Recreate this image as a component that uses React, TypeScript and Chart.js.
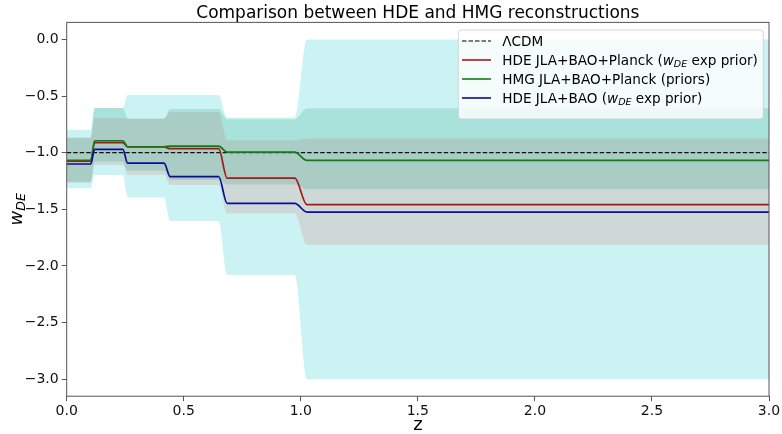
import React, { useEffect, useRef } from 'react';
import { Chart, registerables } from 'chart.js';

Chart.register(...registerables);

// ---- data ----
// bin edges in redshift (a = 0.9, 0.8, 0.7, 0.6, 0.5)
const Z_EDGES = [0, 0.111, 0.25, 0.429, 0.667, 1.0, 3.0];
const SMOOTH_A = 0.0065; // half-width of the smooth step in scale factor

const LCDM_Z = [0, 3];
const LCDM_W = [-1, -1];

const HDE_PLANCK = [-1.074, -0.912, -0.95, -0.965, -1.225, -1.459];
const HMG = [-1.067, -0.895, -0.948, -0.942, -0.996, -1.068];
const HDE_BAO = [-1.1, -0.971, -1.092, -1.212, -1.448, -1.525];

const HDE_BAO_UP = [-0.798, -0.606, -0.492, -0.492, -0.69, 0.0];
const HDE_BAO_LO = [-1.315, -1.198, -1.395, -1.604, -2.08, -3.0];
const HDE_PLANCK_UP = [-0.868, -0.695, -0.7, -0.642, -0.89, -0.874];
const HDE_PLANCK_LO = [-1.265, -1.11, -1.198, -1.286, -1.536, -1.812];
const HMG_UP = [-0.868, -0.606, -0.7, -0.615, -0.706, -0.609];
const HMG_LO = [-1.257, -1.08, -1.16, -1.242, -1.28, -1.324];

const X_TICKS = [0, 0.5, 1, 1.5, 2, 2.5, 3];
const Y_TICKS = [0, -0.5, -1, -1.5, -2, -2.5, -3];

const TITLE = 'Comparison between HDE and HMG reconstructions';
const X_LABEL = 'z';

// ---- styles ----
const FONT = '"DejaVu Sans", sans-serif';
const RED = '#a81616';
const GREEN = '#127c12';
const BLUE = '#0c0c98';
const AXIS = '#555555';
const CYAN_FILL = 'rgba(0,196,194,0.2)';
const RED_FILL = 'rgba(212,28,10,0.12)';
const GREEN_FILL = 'rgba(24,154,118,0.2)';

type Part = { t: string; italic?: boolean; sub?: boolean };

const LEGEND: { parts: Part[]; color: string; dash: number[] }[] = [
  { parts: [{ t: 'ΛCDM' }], color: '#000', dash: [4.5, 2] },
  {
    parts: [{ t: 'HDE JLA+BAO+Planck (' }, { t: 'w', italic: true }, { t: 'DE', italic: true, sub: true }, { t: ' exp prior)' }],
    color: RED,
    dash: [],
  },
  { parts: [{ t: 'HMG JLA+BAO+Planck (priors)' }], color: GREEN, dash: [] },
  {
    parts: [{ t: 'HDE JLA+BAO (' }, { t: 'w', italic: true }, { t: 'DE', italic: true, sub: true }, { t: ' exp prior)' }],
    color: BLUE,
    dash: [],
  },
];

function stepSeries(vals: number[]) {
  const pts: { x: number; y: number }[] = [];
  for (let i = 0; i < vals.length; i++) {
    const z0 = Z_EDGES[i];
    const z1 = Z_EDGES[i + 1];
    const start = i === 0 ? z0 : 1 / (1 / (1 + z0) - SMOOTH_A) - 1;
    const end = i === vals.length - 1 ? z1 : 1 / (1 / (1 + z1) + SMOOTH_A) - 1;
    pts.push({ x: start, y: vals[i] }, { x: end, y: vals[i] });
  }
  return pts;
}

function richWidth(ctx: CanvasRenderingContext2D, parts: Part[], size: number) {
  let w = 0;
  for (const p of parts) {
    const s = p.sub ? size * 0.7 : size;
    ctx.font = `${p.italic ? 'italic ' : ''}${s}px ${FONT}`;
    w += ctx.measureText(p.t).width;
  }
  return w;
}

function drawRich(ctx: CanvasRenderingContext2D, parts: Part[], x: number, y: number, size: number) {
  let cx = x;
  for (const p of parts) {
    const s = p.sub ? size * 0.7 : size;
    ctx.font = `${p.italic ? 'italic ' : ''}${s}px ${FONT}`;
    ctx.fillText(p.t, cx, y + (p.sub ? size * 0.18 : 0));
    cx += ctx.measureText(p.t).width;
  }
}

const decorPlugin = {
  id: 'decor',
  afterDraw(chart: any) {
    const ctx: CanvasRenderingContext2D = chart.ctx;
    const { left, right, top, bottom } = chart.chartArea;
    ctx.save();
    // frame
    ctx.strokeStyle = AXIS;
    ctx.lineWidth = 1;
    ctx.setLineDash([]);
    ctx.strokeRect(left, top, right - left, bottom - top);

    // title
    ctx.fillStyle = '#000';
    ctx.font = `17px ${FONT}`;
    ctx.textAlign = 'center';
    ctx.textBaseline = 'alphabetic';
    ctx.fillText(TITLE, (left + right) / 2, 18.2);

    // y label
    ctx.save();
    ctx.translate(17, (top + bottom) / 2);
    ctx.rotate(-Math.PI / 2);
    ctx.textAlign = 'left';
    const yParts: Part[] = [{ t: 'w', italic: true }, { t: 'DE', italic: true, sub: true }];
    const yw = richWidth(ctx, yParts, 18);
    drawRich(ctx, yParts, -yw / 2, 4.7, 18);
    ctx.restore();

    // legend
    const lx = 458.3, ly = 30, lw = 305, lh = 89;
    ctx.beginPath();
    ctx.roundRect(lx, ly, lw, lh, 3);
    ctx.fillStyle = 'rgba(255,255,255,0.8)';
    ctx.fill();
    ctx.strokeStyle = 'rgba(204,204,204,0.8)';
    ctx.lineWidth = 1;
    ctx.stroke();
    ctx.textAlign = 'left';
    ctx.textBaseline = 'alphabetic';
    LEGEND.forEach((e, i) => {
      const ry = 41 + i * 19;
      ctx.beginPath();
      ctx.setLineDash(e.dash);
      ctx.strokeStyle = e.color;
      ctx.lineWidth = e.dash.length ? 1.2 : 1.6;
      ctx.moveTo(462, ry);
      ctx.lineTo(491, ry);
      ctx.stroke();
      ctx.setLineDash([]);
      ctx.fillStyle = '#000';
      drawRich(ctx, e.parts, 502.2, ry + 5, 13.6);
    });
    ctx.restore();
  },
};

export default function App() {
  const ref = useRef<HTMLCanvasElement>(null);

  useEffect(() => {
    const canvas = ref.current;
    if (!canvas) return;
    document.body.style.margin = '0';

    const bandSet = (up: number[], lo: number[], color: string, order: number) => [
      {
        data: stepSeries(up),
        fill: '+1',
        backgroundColor: color,
        borderColor: 'transparent',
        borderWidth: 0,
        pointRadius: 0,
        cubicInterpolationMode: 'monotone',
        order,
      },
      {
        data: stepSeries(lo),
        fill: false,
        backgroundColor: 'transparent',
        borderColor: 'transparent',
        borderWidth: 0,
        pointRadius: 0,
        cubicInterpolationMode: 'monotone',
        order,
      },
    ];

    const lineSet = (vals: number[], color: string, order: number) => ({
      data: stepSeries(vals),
      fill: false,
      borderColor: color,
      borderWidth: 1.7,
      pointRadius: 0,
      cubicInterpolationMode: 'monotone',
      order,
    });

    const chart = new Chart(canvas, {
      type: 'line',
      data: {
        datasets: [
          ...bandSet(HDE_BAO_UP, HDE_BAO_LO, CYAN_FILL, 10),
          ...bandSet(HDE_PLANCK_UP, HDE_PLANCK_LO, RED_FILL, 9),
          ...bandSet(HMG_UP, HMG_LO, GREEN_FILL, 8),
          {
            data: LCDM_Z.map((z, i) => ({ x: z, y: LCDM_W[i] })),
            fill: false,
            borderColor: '#111',
            borderWidth: 1.2,
            borderDash: [4.5, 2],
            pointRadius: 0,
            order: 3,
          },
          lineSet(HDE_PLANCK, RED, 2),
          lineSet(HMG, GREEN, 1),
          lineSet(HDE_BAO, BLUE, 0),
        ] as any,
      },
      options: {
        animation: false,
        responsive: false,
        devicePixelRatio: 1,
        events: [],
        layout: { padding: { top: 22.4, right: 13, bottom: 0, left: 0 } },
        plugins: {
          legend: { display: false },
          tooltip: { enabled: false },
          title: { display: false },
        },
        scales: {
          x: {
            type: 'linear',
            min: 0,
            max: 3,
            afterBuildTicks: (s: any) => {
              s.ticks = X_TICKS.map((v) => ({ value: v }));
            },
            ticks: {
              callback: (v: any) => Number(v).toFixed(1),
              font: { family: FONT, size: 14 },
              color: '#111',
              padding: 2,
              maxRotation: 0,
              autoSkip: false,
            },
            grid: { drawOnChartArea: false, drawTicks: true, tickLength: 5, color: AXIS, lineWidth: 1 },
            border: { display: false },
            title: {
              display: true,
              text: X_LABEL,
              font: { family: FONT, size: 18 },
              color: '#000',
              padding: { top: 0, bottom: -2 },
            },
            afterFit: (s: any) => {
              s.height = 37.8;
              s.paddingLeft = 0;
              s.paddingRight = 0;
            },
          },
          y: {
            type: 'linear',
            min: -3.15,
            max: 0.15,
            afterBuildTicks: (s: any) => {
              s.ticks = Y_TICKS.map((v) => ({ value: v }));
            },
            ticks: {
              callback: (v: any) => {
                const n = Number(v);
                return n < 0 ? '\u2212' + Math.abs(n).toFixed(1) : n.toFixed(1);
              },
              font: { family: FONT, size: 14 },
              color: '#111',
              padding: 3,
              autoSkip: false,
            },
            grid: { drawOnChartArea: false, drawTicks: true, tickLength: 5, color: AXIS, lineWidth: 1 },
            border: { display: false },
            afterFit: (s: any) => {
              s.width = 66.7;
              s.paddingTop = 0;
              s.paddingBottom = 0;
            },
          },
        },
      } as any,
      plugins: [decorPlugin],
    });

    return () => chart.destroy();
  }, []);

  return (
    <div style={{ position: 'fixed', left: 0, top: 0, width: 782, height: 434, background: '#fff' }}>
      <canvas ref={ref} width={782} height={434} style={{ display: 'block' }} />
    </div>
  );
}
